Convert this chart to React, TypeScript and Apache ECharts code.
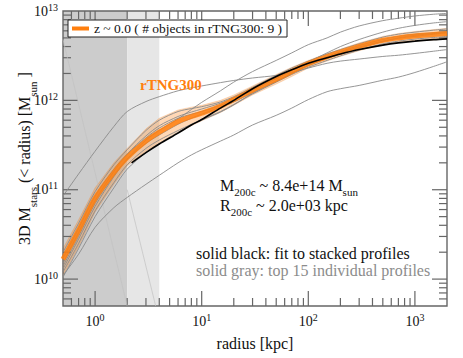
import React, { useEffect, useRef } from 'react';
import * as echarts from 'echarts';

// ---------------- data ----------------
const X_MIN = 0.5;
const X_MAX = 2000;
const Y_MIN = 5e9;
const Y_MAX = 1e13;

const radius = [0.5, 0.7, 1, 1.5, 2, 3, 4, 6, 8, 10, 15, 20, 30, 50, 70, 100, 150, 200, 300, 500, 700, 1000, 1500, 2000];

const medianMass = [1.67e10, 3.5e10, 8.0e10, 1.55e11, 2.3e11, 3.5e11, 4.4e11, 5.8e11, 6.6e11, 7.2e11, 8.6e11, 1.02e12, 1.3e12, 1.72e12, 2.1e12, 2.58e12, 3.08e12, 3.45e12, 4.02e12, 4.7e12, 5.0e12, 5.25e12, 5.45e12, 5.6e12];
const bandUpper = [2.2e10, 4.6e10, 1.05e11, 2.0e11, 2.9e11, 4.8e11, 6.3e11, 7.8e11, 8.4e11, 8.8e11, 1.0e12, 1.15e12, 1.45e12, 1.95e12, 2.35e12, 2.8e12, 3.35e12, 3.75e12, 4.4e12, 5.2e12, 5.6e12, 5.9e12, 6.2e12, 6.4e12];
const bandLower = [1.1e10, 2.3e10, 5.6e10, 1.15e11, 1.85e11, 2.7e11, 3.3e11, 4.3e11, 5.2e11, 5.9e11, 7.3e11, 8.8e11, 1.15e12, 1.52e12, 1.85e12, 2.3e12, 2.75e12, 3.1e12, 3.6e12, 4.2e12, 4.45e12, 4.6e12, 4.75e12, 4.85e12];

const fitRadius = [2.2, 3, 4, 6, 8, 10, 15, 20, 30, 50, 70, 100, 150, 200, 300, 500, 700, 1000, 1500, 2000];
const fitMass = [2.0e11, 2.6e11, 3.25e11, 4.3e11, 5.3e11, 6.1e11, 8.2e11, 1.0e12, 1.35e12, 1.85e12, 2.2e12, 2.6e12, 3.0e12, 3.3e12, 3.7e12, 4.15e12, 4.4e12, 4.6e12, 4.78e12, 4.88e12];

const profile1 = [8.5e10, 1.5e11, 2.7e11, 5.1e11, 7.5e11, 9.7e11, 1.1e12, 1.28e12, 1.38e12, 1.45e12, 1.58e12, 1.67e12, 1.78e12, 1.9e12, 2.05e12, 2.3e12, 2.6e12, 2.75e12, 2.9e12, 3.1e12, 3.2e12, 3.35e12, 3.55e12, 3.7e12];
const profile2 = [1.1e10, 1.9e10, 3.8e10, 6.3e10, 8.2e10, 1.15e11, 1.45e11, 2.0e11, 2.45e11, 2.8e11, 3.5e11, 4.1e11, 5.3e11, 6.8e11, 8.2e11, 1.02e12, 1.25e12, 1.35e12, 1.47e12, 1.68e12, 1.82e12, 2.05e12, 2.4e12, 2.7e12];
const profile3 = [1.3e10, 2.8e10, 6.5e10, 1.4e11, 2.2e11, 3.6e11, 4.6e11, 6.2e11, 7.9e11, 9.5e11, 1.28e12, 1.6e12, 2.1e12, 2.8e12, 3.4e12, 4.2e12, 5.0e12, 5.8e12, 6.8e12, 7.8e12, 8.3e12, 8.8e12, 9.2e12, 9.4e12];
const profile4 = [1.5e10, 3.3e10, 7.5e10, 1.6e11, 2.5e11, 4.0e11, 5.2e11, 6.6e11, 7.4e11, 8.0e11, 9.3e11, 1.07e12, 1.35e12, 1.8e12, 2.2e12, 2.7e12, 3.4e12, 4.0e12, 4.8e12, 5.8e12, 6.4e12, 6.9e12, 7.35e12, 7.6e12];
const profile5 = [1.2e10, 2.5e10, 5.8e10, 1.2e11, 1.9e11, 2.9e11, 3.6e11, 4.6e11, 5.4e11, 6.1e11, 7.5e11, 9.0e11, 1.18e12, 1.6e12, 1.95e12, 2.35e12, 2.8e12, 3.15e12, 3.65e12, 4.3e12, 4.6e12, 4.85e12, 5.05e12, 5.2e12];
const profile6 = [2.0e10, 4.2e10, 9.5e10, 1.9e11, 2.8e11, 4.6e11, 6.0e11, 7.5e11, 8.1e11, 8.5e11, 9.6e11, 1.1e12, 1.4e12, 1.9e12, 2.3e12, 2.75e12, 3.3e12, 3.7e12, 4.3e12, 5.1e12, 5.5e12, 5.8e12, 6.1e12, 6.3e12];
const profile7 = [1.7e10, 3.7e10, 8.5e10, 1.7e11, 2.5e11, 3.8e11, 4.9e11, 6.3e11, 7.0e11, 7.5e11, 8.8e11, 1.02e12, 1.3e12, 1.75e12, 2.15e12, 2.6e12, 3.1e12, 3.5e12, 4.1e12, 4.8e12, 5.2e12, 5.5e12, 5.7e12, 5.9e12];
const profile8 = [1.05e10, 2.2e10, 5.0e10, 1.05e11, 1.7e11, 2.6e11, 3.3e11, 4.4e11, 5.3e11, 6.0e11, 7.4e11, 8.9e11, 1.2e12, 1.62e12, 2.0e12, 2.45e12, 2.95e12, 3.3e12, 3.85e12, 4.55e12, 4.95e12, 5.2e12, 5.5e12, 5.7e12];
const profile9 = [1.4e10, 3.0e10, 7.0e10, 1.45e11, 2.2e11, 3.3e11, 4.1e11, 5.4e11, 6.3e11, 7.0e11, 8.4e11, 9.6e11, 1.22e12, 1.65e12, 2.0e12, 2.5e12, 3.0e12, 3.4e12, 3.95e12, 4.6e12, 5.0e12, 5.35e12, 5.6e12, 5.75e12];
const individualProfiles = [profile1, profile2, profile3, profile4, profile5, profile6, profile7, profile8, profile9];

// faint resolution guide lines
const guideA = [[0.5, 4.8e12], [2.0, 5e9]];
const guideB = [[2.0, 1.0e11], [3.7, 5e9]];

// shaded radius ranges
const shadeRegions = [[0.5, 2], [2, 4]];

// tick values
const xTicksMajor = [1, 10, 100, 1000];
const xTicksMinor = [0.6, 0.7, 0.8, 0.9, 2, 3, 4, 5, 6, 7, 8, 9, 20, 30, 40, 50, 60, 70, 80, 90, 200, 300, 400, 500, 600, 700, 800, 900];
const yTicksMajor = [1e10, 1e11, 1e12];
const yTicksMinor = [6e9, 7e9, 8e9, 9e9, 2e10, 3e10, 4e10, 5e10, 6e10, 7e10, 8e10, 9e10, 2e11, 3e11, 4e11, 5e11, 6e11, 7e11, 8e11, 9e11, 2e12, 3e12, 4e12, 5e12, 6e12, 7e12, 8e12, 9e12];

const LEGEND_NAME = 'z ~ 0.0 ( # objects in rTNG300: 9 )';

// ---------------- styling ----------------
const FONT = 'Liberation Serif';
const ORANGE = '#ff7f0e';
const AXIS_COLOR = '#666666';
const SHADE_COLORS = ['#cccccc', '#e6e6e6'];

const pairs = (xs: number[], ys: number[]) => xs.map((x, i) => [x, ys[i]]);

const powLabel = (v: number) => {
  const e = Math.log10(v);
  const r = Math.round(e);
  return Math.abs(e - r) < 1e-6 ? `{b|10}{s|${r}}` : '';
};

const tickRich = {
  b: { fontSize: 14, fontFamily: FONT, color: '#111' },
  s: { fontSize: 10, fontFamily: FONT, color: '#111', lineHeight: 10, padding: [0, 0, 8, 0] },
};

const textRich = {
  m: { fontSize: 16, fontFamily: FONT, color: '#111' },
  s: { fontSize: 11, fontFamily: FONT, color: '#111', lineHeight: 11, padding: [12, 0, 0, 0] },
};

function buildOption(): any {
  const series: any[] = [];

  series.push({
    type: 'custom',
    name: 'shade',
    silent: true,
    data: shadeRegions.map((r, i) => [r[0], Y_MIN, r[1], i]),
    encode: { x: 0, y: 1 },
    renderItem: (_p: any, api: any) => {
      const p0 = api.coord([api.value(0), Y_MAX]);
      const p1 = api.coord([api.value(2), Y_MIN]);
      return {
        type: 'rect',
        shape: { x: p0[0], y: p0[1], width: p1[0] - p0[0], height: p1[1] - p0[1] },
        style: { fill: SHADE_COLORS[api.value(3)] },
      };
    },
  });

  [guideA, guideB].forEach((g, i) => {
    series.push({
      type: 'line',
      name: 'guide' + i,
      data: g,
      showSymbol: false,
      silent: true,
      lineStyle: { color: '#c2c2c2', width: 0.7 },
    });
  });

  individualProfiles.forEach((prof, i) => {
    series.push({
      type: 'line',
      name: 'profile' + (i + 1),
      data: pairs(radius, prof),
      showSymbol: false,
      smooth: 0.3,
      silent: true,
      lineStyle: { color: '#8a8a8a', width: 0.9 },
    });
  });

  series.push({
    type: 'custom',
    name: 'band',
    silent: true,
    data: [[radius[0], medianMass[0]]],
    encode: { x: 0, y: 1 },
    renderItem: (_p: any, api: any) => {
      const upper = radius.map((r, i) => api.coord([r, bandUpper[i]]));
      const lower = radius.map((r, i) => api.coord([r, bandLower[i]])).reverse();
      return {
        type: 'polygon',
        shape: { points: upper.concat(lower) },
        style: { fill: 'rgba(255,127,14,0.3)', stroke: 'rgba(230,120,30,0.35)', lineWidth: 0.6 },
      };
    },
  });

  series.push({
    type: 'line',
    name: LEGEND_NAME,
    data: pairs(radius, medianMass),
    showSymbol: false,
    smooth: 0.3,
    itemStyle: { color: ORANGE },
    lineStyle: { color: ORANGE, width: 5, opacity: 0.85 },
  });

  series.push({
    type: 'line',
    name: 'fit',
    data: pairs(fitRadius, fitMass),
    showSymbol: false,
    smooth: 0.3,
    silent: true,
    lineStyle: { color: '#000', width: 1.6 },
  });

  const tickData: number[][] = [
    ...xTicksMajor.map((v) => [v, Y_MIN, 0]),
    ...xTicksMinor.map((v) => [v, Y_MIN, 1]),
    ...yTicksMajor.map((v) => [X_MIN, v, 2]),
    ...yTicksMinor.map((v) => [X_MIN, v, 3]),
    [X_MIN, Y_MIN, 4],
  ];

  series.push({
    type: 'custom',
    name: 'ticks',
    silent: true,
    z: 3,
    data: tickData,
    encode: { x: 0, y: 1 },
    renderItem: (params: any, api: any) => {
      const cs = params.coordSys;
      const kind = api.value(2);
      const left = cs.x;
      const top = cs.y;
      const right = cs.x + cs.width;
      const bottom = cs.y + cs.height;
      const st = { stroke: AXIS_COLOR, lineWidth: 1.2 };
      if (kind === 4) {
        return {
          type: 'rect',
          shape: { x: left, y: top, width: cs.width, height: cs.height },
          style: { stroke: AXIS_COLOR, lineWidth: 1.4, fill: 'transparent' },
        };
      }
      const p = api.coord([api.value(0), api.value(1)]);
      if (kind < 2) {
        const len = kind === 0 ? 15 : 8;
        return {
          type: 'group',
          children: [
            { type: 'line', shape: { x1: p[0], y1: bottom, x2: p[0], y2: bottom - len }, style: st },
            { type: 'line', shape: { x1: p[0], y1: top, x2: p[0], y2: top + len }, style: st },
          ],
        };
      }
      const len = kind === 2 ? 15 : 8;
      return {
        type: 'group',
        children: [
          { type: 'line', shape: { x1: left, y1: p[1], x2: left + len, y2: p[1] }, style: st },
          { type: 'line', shape: { x1: right, y1: p[1], x2: right - len, y2: p[1] }, style: st },
        ],
      };
    },
  });

  return {
    animation: false,
    backgroundColor: '#fff',
    grid: { left: 63, right: 16, top: 11, bottom: 52, containLabel: false, outerBoundsMode: 'none' },
    legend: {
      data: [LEGEND_NAME],
      left: 68,
      top: 20,
      icon: 'rect',
      itemWidth: 17,
      itemHeight: 4,
      backgroundColor: '#fff',
      borderColor: '#222',
      borderWidth: 1,
      borderRadius: 0,
      padding: [1, 5, 1, 4],
      selectedMode: false,
      textStyle: { fontFamily: FONT, fontSize: 13.5, color: '#111', lineHeight: 15 },
    },
    xAxis: {
      type: 'log',
      logBase: 10,
      min: X_MIN,
      max: X_MAX,
      name: 'radius [kpc]',
      nameLocation: 'middle',
      nameGap: 29,
      nameMoveOverlap: false,
      nameTextStyle: { fontFamily: FONT, fontSize: 16, color: '#111', lineHeight: 17 },
      axisLine: { show: false },
      axisTick: { show: false },
      splitLine: { show: false },
      minorTick: { show: false },
      axisLabel: { formatter: powLabel, rich: tickRich, margin: 8, fontFamily: FONT },
    },
    yAxis: {
      type: 'log',
      logBase: 10,
      min: Y_MIN,
      max: Y_MAX,
      name: '{m|3D M}{s|stars}{m| (< radius) [M}{s|sun}{m| ]}',
      nameLocation: 'middle',
      nameRotate: 90,
      nameGap: 31,
      nameMoveOverlap: false,
      nameTextStyle: {
        fontFamily: FONT,
        fontSize: 16,
        color: '#111',
        rich: {
          m: { fontSize: 16, fontFamily: FONT, color: '#111' },
          s: { fontSize: 11, fontFamily: FONT, color: '#111', lineHeight: 11, padding: [17, 0, 0, 0] },
        },
      },
      axisLine: { show: false },
      axisTick: { show: false },
      splitLine: { show: false },
      minorTick: { show: false },
      axisLabel: { formatter: powLabel, rich: tickRich, margin: 5, fontFamily: FONT },
    },
    graphic: [
      {
        type: 'text',
        left: 140,
        top: 77,
        z: 100,
        style: { text: 'rTNG300', font: `bold 15px "${FONT}"`, fill: ORANGE },
      },
      {
        type: 'text',
        left: 220,
        top: 174,
        z: 100,
        style: { text: '{m|M}{s|200c}{m| ~ 8.4e+14 M}{s|sun}', rich: textRich, fill: '#111' },
      },
      {
        type: 'text',
        left: 220,
        top: 194,
        z: 100,
        style: { text: '{m|R}{s|200c}{m| ~ 2.0e+03 kpc}', rich: textRich, fill: '#111' },
      },
      {
        type: 'text',
        left: 196,
        top: 245,
        z: 100,
        style: { text: 'solid black: fit to stacked profiles', font: `16px "${FONT}"`, lineHeight: 16, fill: '#111' },
      },
      {
        type: 'text',
        left: 196,
        top: 262,
        z: 100,
        style: { text: 'solid gray: top 15 individual profiles', font: `16px "${FONT}"`, lineHeight: 16, fill: '#8c8c8c' },
      },
    ],
    series,
  };
}

export default function App() {
  const ref = useRef<HTMLDivElement>(null);
  useEffect(() => {
    if (!ref.current) return;
    const chart = echarts.init(ref.current, undefined, { renderer: 'svg' });
    chart.setOption(buildOption());
    return () => chart.dispose();
  }, []);
  return (
    <div
      ref={ref}
      style={{ position: 'absolute', left: 0, top: 0, width: 463, height: 358, background: '#fff' }}
    />
  );
}
